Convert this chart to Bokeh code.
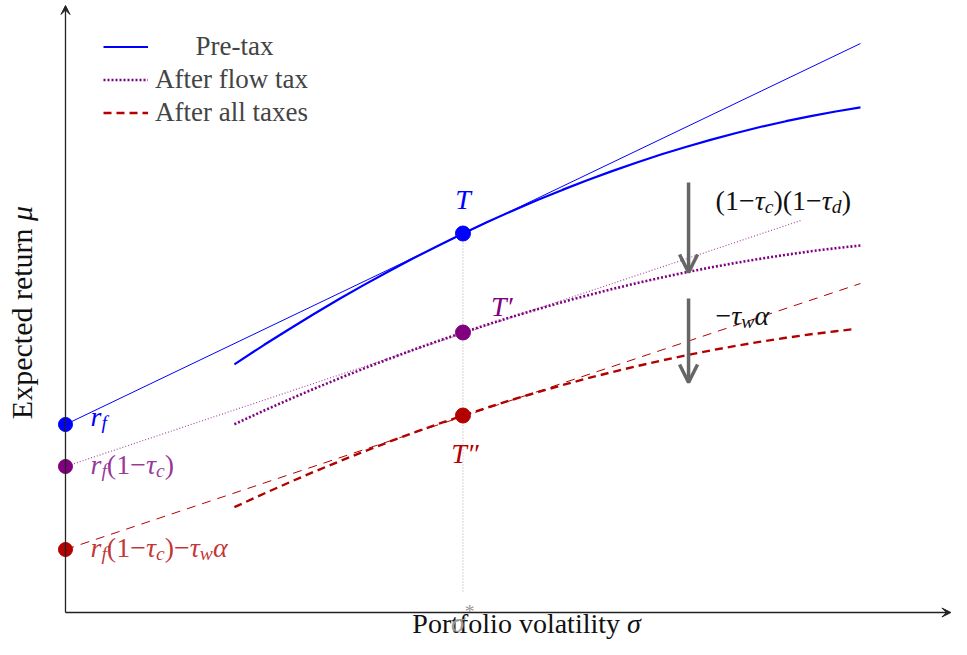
import glob, os, math
from bokeh.plotting import figure
from bokeh.models import Range1d, Label, Arrow, VeeHead, OpenHead, Legend, LegendItem
from bokeh.embed import file_html
from bokeh.resources import INLINE

# ---------------- data ----------------
sigma_grid = [0.85, 1.0, 1.125, 1.25, 1.375, 1.5, 1.625, 1.75, 1.875, 2.0, 2.125, 2.25, 2.375,
              2.5, 2.625, 2.75, 2.875, 3.0, 3.125, 3.25, 3.375, 3.5, 3.625, 3.75, 3.875, 4.0]
pretax_mu = [2.482, 2.677, 2.833, 2.985, 3.132, 3.274, 3.410, 3.542, 3.668, 3.790, 3.907, 4.018, 4.125,
             4.226, 4.322, 4.414, 4.500, 4.582, 4.658, 4.729, 4.795, 4.857, 4.913, 4.964, 5.010, 5.051]
flow_mu = [1.883, 2.020, 2.130, 2.237, 2.339, 2.439, 2.534, 2.627, 2.715, 2.800, 2.881, 2.959, 3.033,
           3.104, 3.171, 3.234, 3.294, 3.350, 3.403, 3.452, 3.497, 3.539, 3.577, 3.612, 3.643, 3.670]
all_sigma = [0.85, 1.0, 1.125, 1.25, 1.375, 1.5, 1.625, 1.75, 1.875, 2.0, 2.125, 2.25, 2.375,
             2.5, 2.625, 2.75, 2.875, 3.0, 3.125, 3.25, 3.375, 3.5, 3.625, 3.75, 3.875, 3.96]
all_mu = [1.053, 1.190, 1.300, 1.407, 1.509, 1.609, 1.704, 1.797, 1.885, 1.970, 2.051, 2.129, 2.203,
          2.274, 2.341, 2.404, 2.464, 2.520, 2.573, 2.622, 2.667, 2.709, 2.747, 2.782, 2.813, 2.832]

pre_line_sigma = [0.0, 4.0]
pre_line_mu = [1.88, 5.69]
flow_line_sigma = [0.0, 3.70]
flow_line_mu = [1.46, 3.92]
all_line_sigma = [0.0, 4.0]
all_line_mu = [0.63, 3.29]

rf_mu = [1.88, 1.46, 0.63]
sigma_star = 2.0
tangency_mu = [3.79, 2.80, 1.97]
guide_bottom = 0.20
arrow_sigma = 3.135
arrow1_mu = [4.30, 3.40]
arrow2_mu = [3.14, 2.30]

legend_labels = ["\u00a0\u00a0\u00a0\u00a0\u00a0\u00a0Pre-tax", "After flow tax", "After all taxes"]
x_title = "Portfolio volatility "
y_title = "Expected return "

BLUE = "#0000FF"
PURPLE = "#800080"
RED = "#B30000"
GRAY = "#666666"
FONT = "Liberation Serif"

# ---------------- font measuring ----------------
_font_cache = {}
def _font_path(fname):
    for root in ["/usr/share/fonts", "/usr/local/share/fonts", os.path.expanduser("~/.fonts"), os.path.expanduser("~/.local/share/fonts")]:
        hits = glob.glob(os.path.join(root, "**", fname), recursive=True)
        if hits:
            return hits[0]
    return None

def measure(s, italic, size):
    try:
        from PIL import ImageFont
        fname = "LiberationSerif-Italic.ttf" if italic else "LiberationSerif-Regular.ttf"
        key = (fname, round(size))
        if key not in _font_cache:
            path = _font_path(fname)
            _font_cache[key] = ImageFont.truetype(path, size=max(1, round(size))) if path else None
        f = _font_cache[key]
        if f is None:
            raise RuntimeError
        return f.getlength(s) * size / max(1, round(size))
    except Exception:
        return 0.5 * size * len(s)

# ---------------- figure ----------------
p = figure(width=951, height=639,
           x_range=Range1d(-0.327, 4.458), y_range=Range1d(-0.27, 6.12),
           output_backend="svg", toolbar_location=None,
           min_border_left=0, min_border_right=0, min_border_top=0, min_border_bottom=0)
p.axis.visible = False
p.grid.visible = False
p.outline_line_color = None
p.background_fill_color = "white"
p.border_fill_color = "white"


def mlabel(x, y, parts, color, size, align="left", dx=0.0, dy=0.0, alpha=1.0, vertical=False):
    sizes, widths = [], []
    for s, st in parts:
        sz = size * 0.7 if st[0] in "sp" else size
        sizes.append(sz)
        widths.append(measure(s, "i" in st, sz))
    total = sum(widths)
    off = -total / 2 if align == "center" else 0.0
    fix = 0.35 * size  # baseline correction
    for (s, st), sz, w in zip(parts, sizes, widths):
        shift = 0.0
        if st[0] == "s":
            shift = -0.22 * size
        elif st[0] == "p":
            shift = 0.40 * size
        shift += fix
        if vertical:
            xo, yo, ang = dx - shift, dy + off, math.pi / 2
        else:
            xo, yo, ang = dx + off, dy + shift, 0.0
        p.add_layout(Label(x=x, y=y, x_offset=xo, y_offset=yo, text=s, angle=ang,
                           text_font=FONT, text_font_style="italic" if "i" in st else "normal",
                           text_font_size=f"{sz:.1f}px", text_color=color, text_alpha=alpha,
                           text_baseline="alphabetic", text_align="left"))
        off += w

# guide line at sigma*
p.line([sigma_star, sigma_star], [tangency_mu[0], guide_bottom], color="#aaaaaa", line_width=1, line_dash="1 2")

# axes with arrows
p.add_layout(Arrow(x_start=0, y_start=0, x_end=0, y_end=6.07, line_color="#222222", line_width=1.3,
                   end=VeeHead(size=9, fill_color="#222222", line_color="#222222")))
p.add_layout(Arrow(x_start=0, y_start=0, x_end=4.455, y_end=0, line_color="#222222", line_width=1.3,
                   end=VeeHead(size=9, fill_color="#222222", line_color="#222222")))

# tangent lines
p.line(pre_line_sigma, pre_line_mu, color=BLUE, line_width=1)
p.line(flow_line_sigma, flow_line_mu, color=PURPLE, line_width=1.2, line_dash="1 2", line_alpha=0.7)
p.line(all_line_sigma, all_line_mu, color=RED, line_width=1, line_dash="9 7")

# frontiers
r_pre = p.line(sigma_grid, pretax_mu, color=BLUE, line_width=2.2)
r_flow = p.line(sigma_grid, flow_mu, color=PURPLE, line_width=2.6, line_dash="2 2")
r_all = p.line(all_sigma, all_mu, color=RED, line_width=2.4, line_dash="8 5")

# points
p.scatter([0, 0, 0], rf_mu, size=14, color=[BLUE, PURPLE, RED])
p.scatter([sigma_star] * 3, tangency_mu, size=15, color=[BLUE, PURPLE, RED])

# gray arrows
for mu_pair in (arrow1_mu, arrow2_mu):
    p.add_layout(Arrow(x_start=arrow_sigma, y_start=mu_pair[0], x_end=arrow_sigma, y_end=mu_pair[1],
                       line_color=GRAY, line_width=3.5,
                       end=OpenHead(size=18, line_color=GRAY, line_width=3.5)))

MS = 28
# point labels
mlabel(0, rf_mu[0], [("r", "i"), ("f", "si")], BLUE, MS, dx=25, dy=-2)
mlabel(0, rf_mu[1], [("r", "i"), ("f", "si"), ("(1\u2212", "r"), ("\u03c4", "i"), ("c", "si"), (")", "r")],
       PURPLE, MS, dx=25, dy=-8, alpha=0.8)
mlabel(0, rf_mu[2], [("r", "i"), ("f", "si"), ("(1\u2212", "r"), ("\u03c4", "i"), ("c", "si"), (")\u2212", "r"),
                     ("\u03c4", "i"), ("w", "si"), ("\u03b1", "i")],
       RED, MS, dx=25, dy=-8, alpha=0.8)
mlabel(sigma_star, tangency_mu[0], [("T", "i")], BLUE, MS, align="center", dy=24)
mlabel(sigma_star, tangency_mu[1], [("T\u2032", "i")], PURPLE, MS, dx=28, dy=16)
mlabel(sigma_star, tangency_mu[2], [("T\u2033", "i")], RED, MS, align="center", dx=2, dy=-48)

# arrow labels
mlabel(arrow_sigma, arrow1_mu[0], [("(1\u2212", "r"), ("\u03c4", "i"), ("c", "si"), (")(1\u2212", "r"),
                                   ("\u03c4", "i"), ("d", "si"), (")", "r")], "#111111", MS, dx=27, dy=-28)
mlabel(arrow_sigma, arrow2_mu[0], [("\u2212", "r"), ("\u03c4", "i"), ("w", "si"), ("\u03b1", "i")],
       "#111111", MS, dx=27, dy=-27)

# axis titles
mlabel(2.32, -0.21, [(x_title, "r"), ("\u03c3", "i")], "#111111", 28, align="center")
mlabel(-0.171, 3.0, [(y_title, "r"), ("\u03bc", "i")], "#111111", 30, align="center", vertical=True)
# sigma* marker label (drawn over the title, as in the reference)
mlabel(sigma_star, 0, [("\u03c3", "i"), ("*", "p")], "#999999", MS, dx=-12, dy=-20)

# legend
legend = Legend(items=[LegendItem(label=legend_labels[0], renderers=[r_pre]),
                       LegendItem(label=legend_labels[1], renderers=[r_flow]),
                       LegendItem(label=legend_labels[2], renderers=[r_all])],
                location=(103, 511), border_line_color=None, background_fill_alpha=0,
                label_text_font=FONT, label_text_font_size="27px",
                glyph_width=45, glyph_height=31, label_height=31, label_standoff=7,
                spacing=2, padding=0, margin=0)
p.add_layout(legend)

open("out.html", "w").write(file_html(p, INLINE))
